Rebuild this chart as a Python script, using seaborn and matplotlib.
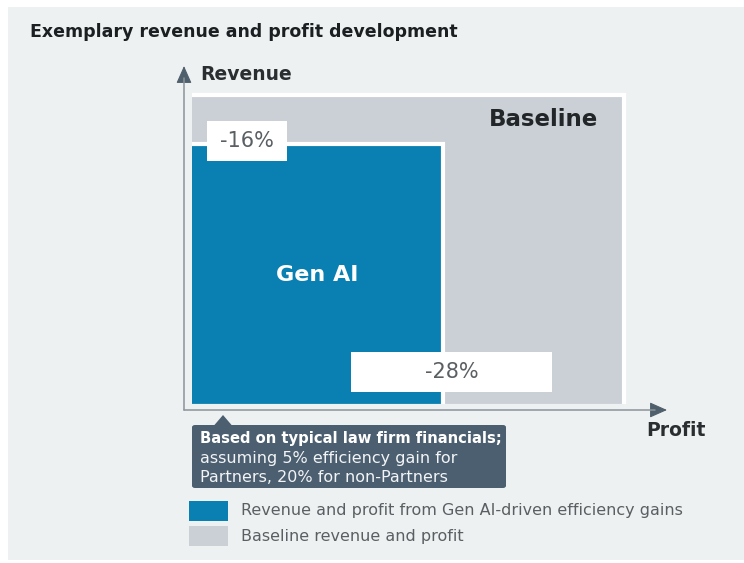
import matplotlib
matplotlib.use("Agg")
import matplotlib.pyplot as plt
from matplotlib.patches import Rectangle, FancyBboxPatch, Polygon, FancyArrowPatch
from matplotlib.lines import Line2D
import seaborn as sns

# ---- data -------------------------------------------------------------
scenarios = ["Baseline", "Gen AI"]
revenue = [100, 84]          # index, baseline = 100
profit = [100, 72]           # index, baseline = 100
colors = ["#cbd0d6", "#0a80b2"]
legend_labels = ["Revenue and profit from Gen AI-driven efficiency gains",
                 "Baseline revenue and profit"]
title = "Exemplary revenue and profit development"
note_bold = "Based on typical law firm financials;"
note_rest = ["assuming 5% efficiency gain for", "Partners, 20% for non-Partners"]

sns.set_theme(style="white")
plt.rcParams["font.family"] = ["DejaVu Sans"]

W, H = 744, 563
fig = plt.figure(figsize=(W / 100, H / 100), dpi=100, facecolor="white")


def fx(x):
    return x / W


def fy(y):
    return 1 - y / H


# light panel behind everything
fig.patches.append(Rectangle((fx(8), fy(560)), fx(744) - fx(8), fy(7) - fy(560),
                             transform=fig.transFigure, facecolor="#eef1f1",
                             edgecolor="none", zorder=-5))

# plotting area (profit axis is shown from ~33 upward)
ax_l, ax_r, ax_t, ax_b = 192, 630, 90, 404
ax = fig.add_axes([fx(ax_l), fy(ax_b), fx(ax_r) - fx(ax_l), fy(ax_t) - fy(ax_b)])
ax.set_zorder(1)
ax.set_facecolor("none")
ax.set_xlim(33.28, 100.85)
ax.set_ylim(0.5, 101.45)
ax.set_axis_off()

for name, rev, prof, col in zip(scenarios, revenue, profit, colors):
    ax.bar(0, rev, width=prof, align="edge", color=col, edgecolor="white",
           linewidth=3, zorder=2)

base_rev, base_prof = revenue[0], profit[0]
gen_rev, gen_prof = revenue[1], profit[1]
rev_change = f"{(gen_rev / base_rev - 1) * 100:.0f}%"
prof_change = f"{(gen_prof / base_prof - 1) * 100:.0f}%"


def to_px(x, y):
    """data -> pixel coordinates measured from the top-left corner"""
    dx, dy = ax.transData.transform((x, y))
    return dx, H - dy


def label_box(cx, cy, w, h, text):
    fig.patches.append(Rectangle((fx(cx - w / 2), fy(cy + h / 2)), w / W, h / H,
                                 transform=fig.transFigure, facecolor="white",
                                 edgecolor="none", zorder=5))
    fig.text(fx(cx), fy(cy), text, ha="center", va="center", fontsize=15,
             color="#5a5f63", zorder=6)


# change labels pinned to the Gen AI rectangle
gx, gy = to_px(gen_prof, gen_rev)
label_box(247, gy - 3, 80, 40, rev_change)
label_box(gx + 9, 372, 201, 40, prof_change)

# names inside the rectangles
bx, by = to_px(base_prof, base_rev)
fig.text(fx(bx - 26), fy(by + 25), scenarios[0], ha="right", va="center",
         fontsize=16.5, fontweight="bold", color="#222629", zorder=6)
lx, _ = to_px(ax.get_xlim()[0], 0)
cx = (lx + gx) / 2
_, cy = to_px(0, gen_rev / 2)
fig.text(fx(cx), fy(cy), scenarios[1], ha="center", va="center",
         fontsize=16, fontweight="bold", color="white", zorder=6)

# axes drawn as thin lines with dark arrow heads
ox, oy = 184, 410
for end, back in [((184, 66), (184, 78)), ((667, 410), (655, 410))]:
    fig.add_artist(Line2D([fx(ox), fx(back[0])], [fy(oy), fy(back[1])],
                          transform=fig.transFigure, color="#8a949c", lw=1.1))
    fig.add_artist(FancyArrowPatch((fx(back[0]), fy(back[1])), (fx(end[0]), fy(end[1])),
                                   transform=fig.transFigure,
                                   arrowstyle="-|>,head_length=0.9,head_width=0.4",
                                   color="#4f5f6c", lw=0.8, shrinkA=0, shrinkB=0,
                                   mutation_scale=12))
fig.text(fx(200), fy(75), "Revenue", ha="left", va="center", fontsize=13.5,
         fontweight="bold", color="#2a2e31")
fig.text(fx(676), fy(431), "Profit", ha="center", va="center", fontsize=13.5,
         fontweight="bold", color="#2a2e31")

# title
fig.text(fx(30), fy(32), title, ha="left", va="center", fontsize=12.5,
         fontweight="bold", color="#1c1f21")

# explanatory note
note_col = "#4c5f70"
fig.patches.append(FancyBboxPatch((fx(192), fy(488)), fx(506) - fx(192), fy(425) - fy(488),
                                  boxstyle="round,pad=0,rounding_size=0.004",
                                  transform=fig.transFigure, facecolor=note_col,
                                  edgecolor="none", zorder=3))
fig.patches.append(Polygon([(fx(214), fy(425.5)), (fx(223), fy(415)), (fx(232), fy(425.5))],
                           closed=True, transform=fig.transFigure,
                           facecolor=note_col, edgecolor="none", zorder=3))
fig.text(fx(200), fy(438), note_bold, ha="left", va="center", fontsize=10.6,
         fontweight="bold", color="white", zorder=4)
for i, line in enumerate(note_rest):
    fig.text(fx(200), fy(458 + 19 * i), line, ha="left", va="center",
             fontsize=11.5, color="#f2f4f6", zorder=4)

# legend
for i, (lab, col) in enumerate(zip(legend_labels, [colors[1], colors[0]])):
    top = 501 + 25 * i
    fig.patches.append(Rectangle((fx(189), fy(top + 20)), 39 / W, 20 / H,
                                 transform=fig.transFigure, facecolor=col,
                                 edgecolor="none", zorder=3))
    fig.text(fx(241), fy(top + 10), lab, ha="left", va="center", fontsize=11.5,
             color="#5a5f63")

fig.savefig("out.png", dpi=100, facecolor=fig.get_facecolor())
